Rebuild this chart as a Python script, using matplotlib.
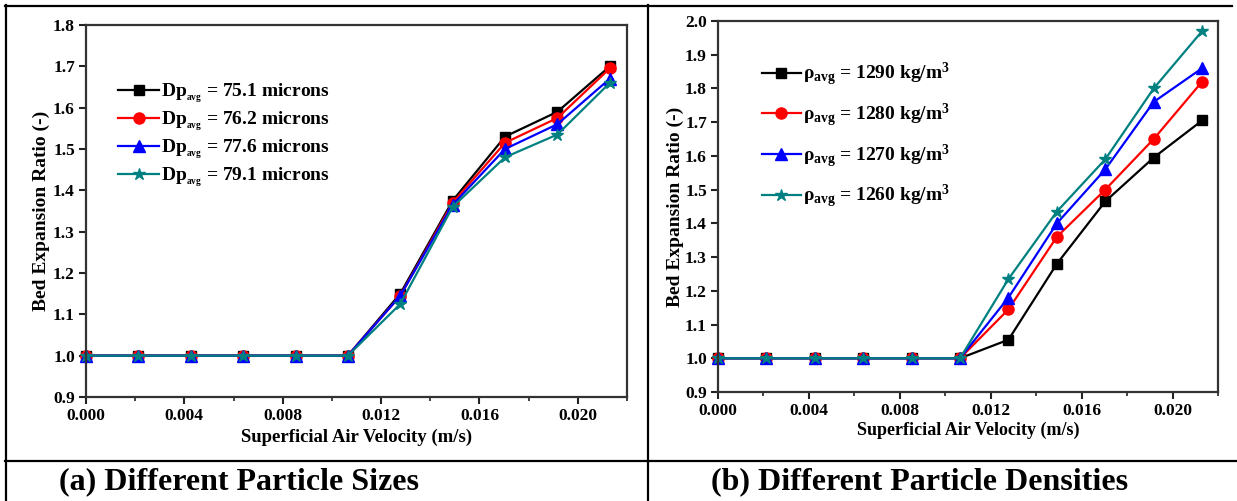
import numpy as np
import matplotlib
matplotlib.use("Agg")
import matplotlib.pyplot as plt
from matplotlib.lines import Line2D
from matplotlib.ticker import MultipleLocator

plt.rcParams["font.family"] = ["Liberation Serif", "DejaVu Serif"]
plt.rcParams["font.weight"] = "bold"
plt.rcParams["axes.labelweight"] = "bold"
plt.rcParams["mathtext.fontset"] = "custom"
plt.rcParams["mathtext.rm"] = "Liberation Serif:bold"
plt.rcParams["mathtext.it"] = "Liberation Serif:bold"
plt.rcParams["mathtext.bf"] = "Liberation Serif:bold"

# superficial air velocity (m/s)
velocity = [0.0, 0.00213, 0.00426, 0.00639, 0.00852, 0.01065,
            0.01278, 0.01491, 0.01704, 0.01917, 0.0213]

# (a) different particle sizes
size_labels = ["Dp$_{_{avg}}$ = 75.1 microns", "Dp$_{_{avg}}$ = 76.2 microns",
               "Dp$_{_{avg}}$ = 77.6 microns", "Dp$_{_{avg}}$ = 79.1 microns"]
size_ratio = [
    [1, 1, 1, 1, 1, 1, 1.150, 1.375, 1.530, 1.590, 1.700],
    [1, 1, 1, 1, 1, 1, 1.145, 1.370, 1.515, 1.575, 1.695],
    [1, 1, 1, 1, 1, 1, 1.145, 1.365, 1.500, 1.560, 1.670],
    [1, 1, 1, 1, 1, 1, 1.125, 1.360, 1.480, 1.535, 1.660],
]

# (b) different particle densities
dens_labels = ["ρ$_{avg}$ = 1290 kg/m$^3$", "ρ$_{avg}$ = 1280 kg/m$^3$",
               "ρ$_{avg}$ = 1270 kg/m$^3$", "ρ$_{avg}$ = 1260 kg/m$^3$"]
dens_ratio = [
    [1, 1, 1, 1, 1, 1, 1.055, 1.280, 1.465, 1.595, 1.705],
    [1, 1, 1, 1, 1, 1, 1.145, 1.360, 1.500, 1.650, 1.820],
    [1, 1, 1, 1, 1, 1, 1.180, 1.400, 1.560, 1.760, 1.860],
    [1, 1, 1, 1, 1, 1, 1.235, 1.435, 1.590, 1.800, 1.970],
]

colors = ["black", "red", "blue", "#008080"]
markers = ["s", "o", "^", "*"]
msizes = [7, 8, 8, 9]

W, H = 1237, 501
fig = plt.figure(figsize=(W / 100, H / 100), dpi=100)


def px_axes(x0, y0, x1, y1):
    return fig.add_axes([x0 / W, 1 - y1 / H, (x1 - x0) / W, (y1 - y0) / H])


def style(ax, ymax, xsize, xpad, ypad):
    ax.set_xlim(0, 0.022)
    ax.set_ylim(0.9, ymax)
    ax.xaxis.set_major_locator(MultipleLocator(0.004))
    ax.xaxis.set_minor_locator(MultipleLocator(0.002))
    ax.yaxis.set_major_locator(MultipleLocator(0.1))
    ax.xaxis.set_major_formatter(plt.FuncFormatter(lambda v, p: f"{v:.3f}"))
    ax.yaxis.set_major_formatter(plt.FuncFormatter(lambda v, p: f"{v:.1f}"))
    ax.tick_params(direction="out", length=5, width=1.5, labelsize=12.5,
                   colors="#222222", labelcolor="black", pad=3)
    ax.tick_params(which="minor", direction="out", length=3, width=1.2,
                   colors="#222222")
    ax.tick_params(axis="y", which="minor", left=False)
    for s in ax.spines.values():
        s.set_linewidth(1.6)
        s.set_color("#333333")
    ax.set_xlabel("Superficial Air Velocity (m/s)", fontsize=xsize, labelpad=xpad)
    ax.set_ylabel("Bed Expansion Ratio (-)", fontsize=14, labelpad=ypad)


ax1 = px_axes(86, 25, 627, 397)
for ys, lab, c, m, ms in zip(size_ratio, size_labels, colors, markers, msizes):
    ax1.plot(velocity, ys, color=c, marker=m, markersize=ms, linewidth=1.6,
             label=lab, clip_on=False)
style(ax1, 1.8, 13.5, 3, 2)
ax1.legend(loc="upper left", bbox_to_anchor=(0.06, 0.848), frameon=False,
           fontsize=14, handlelength=2.1, handletextpad=0.1,
           labelspacing=0.22, borderaxespad=0, borderpad=0)

ax2 = px_axes(718, 21, 1218, 392)
for ys, lab, c, m, ms in zip(dens_ratio, dens_labels, colors, markers, msizes):
    ax2.plot(velocity, ys, color=c, marker=m, markersize=ms, linewidth=1.6,
             label=lab, clip_on=False)
style(ax2, 2.0, 13, 2, 1)
ax2.legend(loc="upper left", bbox_to_anchor=(0.088, 0.892), frameon=False,
           fontsize=14, handlelength=2.0, handletextpad=0.1,
           labelspacing=0.7, borderaxespad=0, borderpad=0)

# table frame
def hline(y, x0, x1):
    fig.add_artist(Line2D([x0 / W, x1 / W], [1 - y / H, 1 - y / H],
                          color="black", linewidth=1.6))


def vline(x, y0, y1):
    fig.add_artist(Line2D([x / W, x / W], [1 - y0 / H, 1 - y1 / H],
                          color="black", linewidth=1.6))


hline(6, 5, 1232)
hline(461, 5, 1237)
vline(6, 5, 501)
vline(648, 5, 501)

fig.text(59 / W, 1 - 482 / H, "(a) Different Particle Sizes", fontsize=23,
         fontweight="bold", va="center", ha="left")
fig.text(711 / W, 1 - 482 / H, "(b) Different Particle Densities", fontsize=23,
         fontweight="bold", va="center", ha="left")

fig.savefig("out.png", dpi=100)
